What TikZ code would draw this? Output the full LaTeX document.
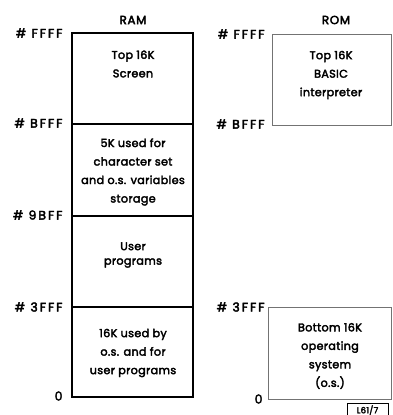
\documentclass[tikz,border=0pt]{standalone}
\usepackage{fontspec}
\setmainfont{Poppins}[FakeBold=3,LetterSpace=3]
\newfontfamily\addrfont{Poppins}[FakeBold=3,LetterSpace=16]
\newfontfamily\titlefont{Poppins}[FakeBold=3.5,LetterSpace=6]
\begin{document}
\begin{tikzpicture}[x=1pt,y=-1pt,
  ramline/.style={draw=black,line width=1.1pt},
  romline/.style={draw=black!55,line width=1pt},
  boxtext/.style={align=center,font=\fontsize{11.2}{18.5}\selectfont},
  addr/.style={anchor=east,font=\addrfont\fontsize{12.4}{12}\selectfont},
  title/.style={font=\titlefont\fontsize{11.8}{12}\selectfont}]
\useasboundingbox (0,0) rectangle (392,415);
% RAM column
\coordinate (r0) at (72,33);
\coordinate (r1) at (193,124);
\coordinate (r2) at (193,216);
\coordinate (r3) at (193,307);
\coordinate (r4) at (193,397);
\draw[ramline] (r0) rectangle (r4);
\draw[ramline] (72,124) -- (r1);
\draw[ramline] (72,216) -- (r2);
\draw[ramline] (72,307) -- (r3);
\node[title] (ramt) at (133,20) {RAM};
\node[boxtext] (screen) at (133,64) {Top 16K\\Screen};
\node[boxtext] (charset) at (133,172) {5K used for\\character set\\and o.s. variables\\storage};
\node[boxtext,font=\fontsize{11.2}{14.5}\selectfont] (user) at (133,255) {User\\programs};
\node[boxtext] (low) at (133,353) {16K used by\\o.s. and for\\user programs};
\node[addr] (af) at (66,33) {\# FFFF};
\node[addr] (ab) at (66,123) {\# BFFF};
\node[addr] (a9) at (66,215) {\# 9BFF};
\node[addr] (a3) at (66,307) {\# 3FFF};
\node[addr] (a0) at (66,396) {0};
% ROM column
\draw[romline] (272,34) rectangle (391,125);
\draw[romline] (268,307) rectangle (391,399);
\node[title] (romt) at (336,20) {ROM};
\node[boxtext] (basic) at (331,75) {Top 16K\\BASIC\\interpreter};
\node[boxtext] (os) at (330,356) {Bottom 16K\\operating\\system\\(o.s.)};
\node[addr] (bf) at (268,34) {\# FFFF};
\node[addr] (bb) at (268,124) {\# BFFF};
\node[addr] (b3) at (268,307) {\# 3FFF};
\node[addr] (b0) at (266,399) {0};
% figure reference tag
\draw[line width=0.9pt] (347,416) -- (347,403) -- (388,403) -- (388,416);
\node[font=\fontsize{8.5}{9}\selectfont] (tag) at (367.5,410) {L61/7};
\end{tikzpicture}
\end{document}
